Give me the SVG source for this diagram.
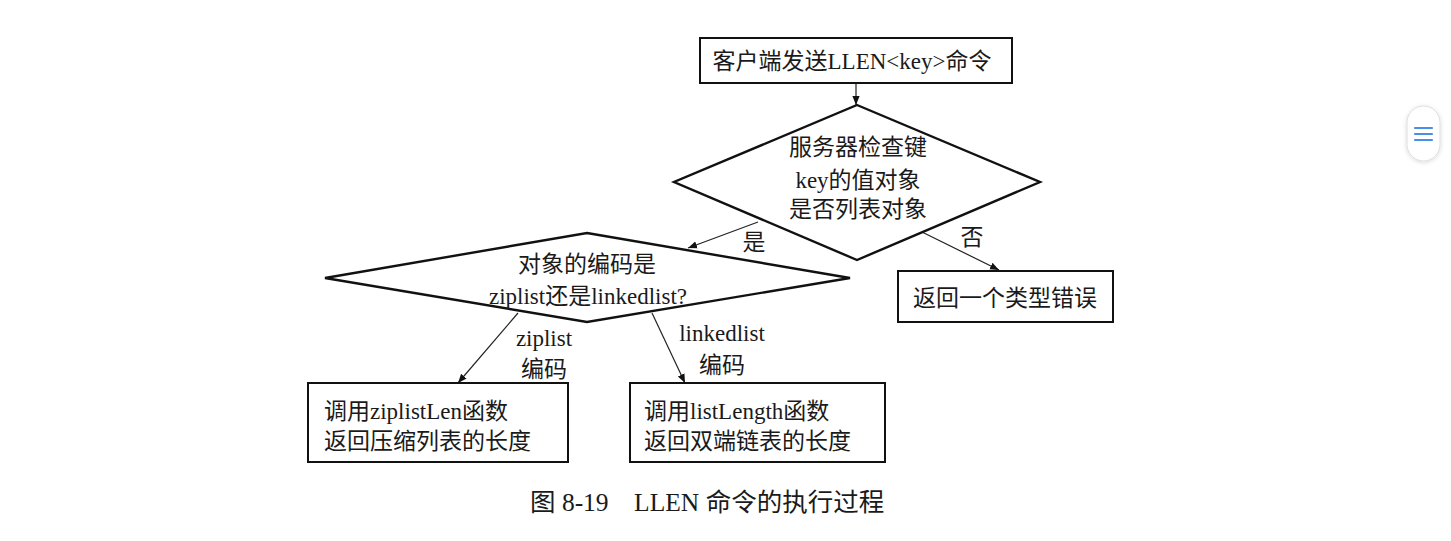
<svg xmlns="http://www.w3.org/2000/svg" width="1451" height="541" viewBox="0 0 1451 541">
<defs>
<marker id="ah" viewBox="0 0 10 10" refX="10" refY="5" markerWidth="9" markerHeight="9" markerUnits="userSpaceOnUse" orient="auto">
<path d="M0,1 L10,5 L0,9 z" fill="#111"/>
</marker>
<filter id="sh" x="-30%" y="-30%" width="160%" height="160%">
<feDropShadow dx="0" dy="1" stdDeviation="2" flood-color="#000" flood-opacity="0.15"/>
</filter>
</defs>
<style>
.box{fill:#fff;stroke:#111;stroke-width:2}
.dia{fill:#fff;stroke:#111;stroke-width:2.4}
.t{font-family:"Liberation Serif","Noto Sans CJK SC",serif;font-size:23px;fill:#1a1a1a}
.c{text-anchor:middle}
.edge{stroke:#222;stroke-width:1.2;fill:none;marker-end:url(#ah)}
.cap{font-family:"Liberation Serif","Noto Sans CJK SC",serif;font-size:25.5px;fill:#1a1a1a}
</style>
<rect width="1451" height="541" fill="#fff"/>

<g id="connectors">
<line class="edge" x1="856" y1="83" x2="856" y2="105"/>
<line class="edge" x1="758" y1="222" x2="688" y2="248"/>
<line class="edge" x1="922" y1="232" x2="999" y2="270"/>
<line class="edge" x1="518" y1="313" x2="458" y2="383"/>
<line class="edge" x1="652" y1="313" x2="685" y2="383"/>
<text class="t c" x="754" y="250">是</text>
<text class="t c" x="972" y="245">否</text>
<text class="t c" x="544" y="346">ziplist</text>
<text class="t c" x="544" y="377">编码</text>
<text class="t c" x="722" y="341">linkedlist</text>
<text class="t c" x="722" y="373">编码</text>
</g>

<g id="n-start">
<rect class="box" x="700" y="38" width="312" height="45"/>
<text class="t c" x="852" y="69">客户端发送LLEN&lt;key&gt;命令</text>
</g>

<g id="n-check">
<polygon class="dia" points="857,105 1040,182 857,260 674,182"/>
<text class="t c" x="858" y="155">服务器检查键</text>
<text class="t c" x="858" y="188">key的值对象</text>
<text class="t c" x="858" y="217">是否列表对象</text>
</g>

<g id="n-encoding">
<polygon class="dia" points="587,233 850,278 587,322 325,278"/>
<text class="t c" x="587" y="272">对象的编码是</text>
<text class="t c" x="588" y="304">ziplist还是linkedlist?</text>
</g>

<g id="n-error">
<rect class="box" x="898" y="271" width="215" height="51"/>
<text class="t c" x="1005" y="306">返回一个类型错误</text>
</g>

<g id="n-ziplist">
<rect class="box" x="308" y="383" width="260" height="79"/>
<text class="t" x="324" y="419">调用ziplistLen函数</text>
<text class="t" x="324" y="449">返回压缩列表的长度</text>
</g>

<g id="n-linkedlist">
<rect class="box" x="630" y="383" width="255" height="79"/>
<text class="t" x="644" y="419">调用listLength函数</text>
<text class="t" x="644" y="449">返回双端链表的长度</text>
</g>

<text class="cap" x="530" y="511" xml:space="preserve">图 8-19    LLEN 命令的执行过程</text>

<g id="float-button">
<rect x="1407" y="106" width="33" height="55" rx="16.5" fill="#fff" stroke="#ddd" stroke-width="1" filter="url(#sh)"/>
<line x1="1415" y1="128" x2="1432" y2="128" stroke="#4a90e2" stroke-width="2.2" stroke-linecap="round"/>
<line x1="1415" y1="134" x2="1432" y2="134" stroke="#4a90e2" stroke-width="2.2" stroke-linecap="round"/>
<line x1="1415" y1="140" x2="1432" y2="140" stroke="#4a90e2" stroke-width="2.2" stroke-linecap="round"/>
</g>
</svg>
